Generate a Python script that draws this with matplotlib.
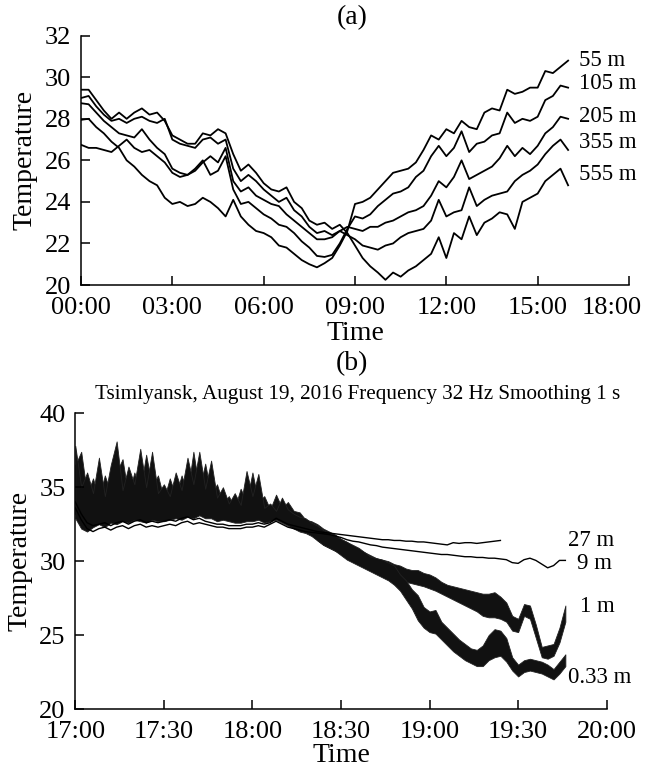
import numpy as np
import matplotlib
matplotlib.use("Agg")
import matplotlib.pyplot as plt
from matplotlib.transforms import ScaledTranslation

plt.rcParams['font.family'] = ['Liberation Serif', 'DejaVu Serif']

# ---------------- Panel (a) data: hours after 00:00, 15-min sampling ----------------
hours_a = np.arange(0, 16.001, 0.25)
t_55 = [27.95, 28.0, 27.6, 27.3, 26.9, 26.6, 26.0, 25.7, 25.3, 25.0, 24.8, 24.2, 23.9, 24.0, 23.8, 23.9,
        24.2, 24.0, 23.7, 23.3, 24.1, 23.3, 22.9, 22.6, 22.5, 22.3, 21.9, 21.8, 21.5, 21.2, 21.0, 20.85,
        21.05, 21.3, 21.9, 22.6, 23.9, 24.0, 24.2, 24.6, 25.0, 25.4, 25.5, 25.6, 25.9, 26.5, 27.2, 27.0,
        27.5, 27.3, 27.9, 27.6, 27.5, 28.3, 28.5, 28.4, 29.4, 29.2, 29.3, 29.5, 29.5, 30.3, 30.2, 30.5, 30.8]
t_105 = [26.75, 26.6, 26.6, 26.5, 26.4, 26.7, 27.0, 26.6, 26.4, 26.5, 26.2, 25.9, 25.4, 25.2, 25.3, 25.6,
         26.0, 25.3, 25.5, 26.2, 24.6, 23.9, 24.0, 23.7, 23.4, 23.2, 22.9, 22.8, 22.5, 22.1, 21.8, 21.4,
         21.35, 21.45, 22.0, 22.7, 23.3, 23.2, 23.4, 23.8, 24.1, 24.4, 24.5, 24.7, 25.2, 25.5, 26.2, 26.7,
         26.2, 26.6, 27.4, 26.4, 26.8, 26.9, 27.2, 27.3, 28.3, 27.8, 28.0, 27.9, 28.1, 28.9, 29.1, 29.6, 29.5]
t_205 = [28.75, 28.7, 28.3, 27.9, 27.6, 27.3, 27.2, 27.1, 27.5, 27.0, 26.6, 26.3, 25.6, 25.4, 25.3, 25.5,
         25.9, 26.2, 25.9, 26.6, 25.0, 24.5, 24.7, 24.3, 24.1, 23.9, 23.8, 23.4, 23.1, 22.8, 22.5, 22.2,
         22.2, 22.3, 22.6, 22.8, 22.7, 22.6, 22.8, 22.8, 23.0, 23.1, 23.3, 23.5, 23.6, 23.8, 24.3, 25.0,
         24.7, 25.2, 26.0, 25.1, 25.3, 25.5, 25.7, 26.1, 26.7, 26.2, 26.6, 26.3, 26.7, 27.3, 27.6, 28.1, 28.0]
t_355 = [29.0, 29.1, 28.6, 28.2, 27.9, 28.0, 27.8, 28.0, 28.1, 27.9, 27.8, 28.0, 27.0, 26.8, 26.7, 26.6,
         27.0, 27.1, 26.8, 27.0, 25.6, 25.0, 25.3, 25.0, 24.6, 24.3, 24.0, 24.2, 23.6, 23.3, 22.8, 22.5,
         22.6, 22.4, 22.6, 22.4, 22.2, 21.9, 21.8, 21.7, 21.9, 22.0, 22.3, 22.5, 22.6, 22.7, 23.1, 24.1,
         23.3, 23.5, 23.6, 24.7, 23.8, 24.1, 24.3, 24.4, 24.5, 25.0, 25.3, 25.5, 25.8, 26.3, 26.7, 27.0, 26.5]
t_555 = [29.4, 29.4, 28.9, 28.4, 28.0, 28.3, 28.0, 28.3, 28.5, 28.2, 28.3, 27.9, 27.2, 27.0, 26.8, 26.8,
         27.3, 27.2, 27.5, 27.3, 26.3, 25.5, 25.8, 25.4, 24.9, 24.6, 24.5, 24.7, 24.0, 23.7, 23.1, 22.9,
         23.0, 22.7, 22.9, 22.5, 21.9, 21.3, 20.9, 20.6, 20.25, 20.6, 20.4, 20.7, 20.9, 21.2, 21.5, 22.3,
         21.3, 22.5, 22.2, 23.3, 22.4, 23.0, 23.2, 23.5, 23.4, 22.7, 24.0, 24.2, 24.4, 25.0, 25.3, 25.6, 24.8]
series_a = {"55 m": t_55, "105 m": t_105, "205 m": t_205, "355 m": t_355, "555 m": t_555}
label_pos_a = {"55 m": 30.83, "105 m": 29.72, "205 m": 28.09, "355 m": 26.88, "555 m": 25.3}
ticks_a = [0, 3, 6, 9, 12, 15, 18]
ticklabels_a = ["00:00", "03:00", "06:00", "09:00", "12:00", "15:00", "18:00"]

# ---------------- Panel (b) data: minutes after 17:00, 2-min sampling ----------------
minutes_b = np.arange(0, 166.001, 2)
hi_033 = [37.8, 35.0, 36.0, 34.6, 37.0, 34.4, 36.5, 38.1, 34.8, 36.4, 35.2, 37.6, 35.0, 37.4, 34.6, 35.2,
          34.4, 36.0, 34.8, 37.0, 35.2, 37.4, 34.9, 36.8, 34.3, 35.0, 33.9, 34.6, 33.8, 36.1, 34.4, 35.9,
          33.6, 33.9, 33.4, 34.3, 33.5, 33.2, 33.0, 32.9, 32.6, 32.4, 32.1, 31.9, 31.7, 31.5, 31.3, 31.1,
          30.9, 30.6, 30.3, 30.2, 30.1, 29.9, 29.7, 29.1, 28.7, 28.1, 27.7, 26.9, 26.6, 26.7, 25.9, 25.5,
          25.1, 24.7, 24.4, 24.1, 24.0, 24.3, 25.0, 25.4, 25.3, 24.8, 23.5, 23.0, 23.3, 23.4, 23.3, 23.2,
          23.0, 22.7, 23.2, 23.7]
lo_033 = [32.9, 32.2, 32.0, 32.3, 32.5, 32.3, 32.6, 32.5, 32.7, 32.6, 32.8, 32.7, 32.6, 32.8, 32.7, 32.7,
          32.8, 32.9, 32.8, 33.0, 32.9, 33.1, 32.9, 32.9, 32.7, 32.8, 32.7, 32.6, 32.6, 32.7, 32.7, 32.8,
          32.6, 32.7, 32.8, 32.6, 32.4, 32.2, 32.0, 31.9, 31.7, 31.4, 31.1, 30.9, 30.7, 30.4, 30.1, 29.9,
          29.7, 29.5, 29.3, 29.1, 28.9, 28.7, 28.4, 28.0, 27.4, 26.8, 26.0, 25.5, 25.2, 25.1, 24.7, 24.3,
          23.9, 23.6, 23.3, 23.1, 22.9, 22.9, 23.3, 23.5, 23.6, 23.2, 22.6, 22.2, 22.5, 22.6, 22.5, 22.4,
          22.2, 22.0, 22.4, 22.9]
hi_1 = [36.5, 37.4, 34.5, 35.6, 34.2, 35.8, 34.6, 36.0, 36.9, 34.4, 36.0, 34.8, 37.2, 35.0, 35.8, 34.2,
        35.6, 34.4, 35.8, 34.6, 37.4, 34.8, 36.6, 34.5, 35.2, 33.9, 34.4, 33.6, 34.9, 34.0, 36.0, 34.0,
        34.4, 33.5, 34.5, 33.6, 34.0, 33.4, 33.3, 32.8, 32.7, 32.5, 32.2, 32.0, 31.8, 31.5, 31.3, 31.0,
        30.8, 30.6, 30.4, 30.2, 30.1, 30.0, 29.8, 29.7, 29.5, 29.4, 29.4, 29.2, 29.1, 28.9, 28.6, 28.4,
        28.3, 28.2, 28.1, 28.0, 27.9, 27.8, 27.8, 27.9, 27.6, 27.2, 26.3, 26.1, 27.1, 27.0, 25.7, 24.2,
        24.3, 24.4, 25.5, 27.0]
lo_1 = [33.2, 32.6, 32.3, 32.5, 32.7, 32.6, 32.8, 32.7, 32.9, 32.8, 33.0, 32.9, 32.8, 33.0, 32.9, 32.9,
        33.0, 33.1, 33.0, 33.2, 33.1, 33.2, 33.0, 33.0, 32.9, 32.9, 32.8, 32.7, 32.7, 32.8, 32.8, 32.9,
        32.7, 32.8, 32.9, 32.7, 32.5, 32.3, 32.1, 32.0, 31.8, 31.4, 31.1, 30.9, 30.7, 30.5, 30.2, 30.0,
        29.8, 29.6, 29.4, 29.3, 29.1, 28.9, 28.7, 28.8, 28.6, 28.5, 28.4, 28.3, 28.15, 28.0, 27.8, 27.6,
        27.4, 27.2, 27.0, 26.8, 26.6, 26.3, 26.2, 26.2, 26.1, 25.9, 25.3, 25.2, 26.3, 26.1, 24.8, 23.5,
        23.4, 23.6, 24.5, 25.9]
t_9 = [33.6, 32.8, 32.2, 32.0, 32.2, 32.3, 32.1, 32.3, 32.4, 32.2, 32.4, 32.5, 32.3, 32.4, 32.3, 32.4,
       32.5, 32.4, 32.6, 32.7, 32.5, 32.6, 32.5, 32.4, 32.3, 32.3, 32.2, 32.2, 32.2, 32.3, 32.3, 32.4,
       32.3, 32.5, 32.7, 32.5, 32.3, 32.2, 32.1, 32.0, 31.95, 31.9, 31.85, 31.8, 31.7, 31.6, 31.45, 31.35,
       31.3, 31.2, 31.1, 31.05, 30.95, 30.9, 30.85, 30.8, 30.75, 30.7, 30.65, 30.6, 30.55, 30.5, 30.45, 30.45,
       30.4, 30.35, 30.3, 30.3, 30.25, 30.25, 30.2, 30.2, 30.15, 30.1, 29.9, 29.85, 30.1, 30.2, 30.05, 29.8,
       29.55, 29.7, 30.05, 30.05]
minutes_27 = np.arange(0, 144.001, 2)
t_27 = [34.0, 33.2, 32.6, 32.4, 32.5, 32.6, 32.4, 32.6, 32.7, 32.5, 32.7, 32.8, 32.6, 32.7, 32.6, 32.7,
        32.8, 32.7, 32.9, 33.0, 32.8, 32.9, 32.7, 32.6, 32.5, 32.5, 32.4, 32.4, 32.4, 32.5, 32.5, 32.6,
        32.5, 32.6, 32.9, 32.7, 32.5, 32.4, 32.3, 32.2, 32.1, 32.0, 31.95, 31.9, 31.85, 31.8, 31.75, 31.7,
        31.65, 31.6, 31.55, 31.5, 31.45, 31.45, 31.4, 31.4, 31.35, 31.35, 31.3, 31.3, 31.25, 31.2, 31.15, 31.1,
        31.25, 31.2, 31.25, 31.25, 31.2, 31.25, 31.3, 31.35, 31.4]
label_pos_b = {"27 m": (167, 31.38), "9 m": (170, 29.87), "1 m": (171, 26.9), "0.33 m": (167, 22.1)}
ticks_b = [0, 30, 60, 90, 120, 150, 180]
ticklabels_b = ["17:00", "17:30", "18:00", "18:30", "19:00", "19:30", "20:00"]

# ---------------- Figure ----------------
W, H = 647, 774
fig = plt.figure(figsize=(W / 100, H / 100), dpi=100)
TICK_FS = 19
LABEL_FS = 20

def style_axes(ax):
    for s in ("top", "right"):
        ax.spines[s].set_visible(False)
    for s in ("left", "bottom"):
        ax.spines[s].set_linewidth(1.1)
    ax.tick_params(direction="in", length=6.5, width=1.1, labelsize=TICK_FS)
    ax.tick_params(axis="x", pad=9)
    ax.tick_params(axis="y", pad=7)

# Panel (a)
axa = fig.add_axes([81 / W, 1 - 285 / H, 548 / W, 249.3 / H])
for name, vals in series_a.items():
    axa.plot(hours_a, vals, color="black", lw=1.3)
    axa.text(16.35, label_pos_a[name], name, fontsize=16.5, ha="left", va="center")
axa.set_xlim(0, 18)
axa.set_ylim(20, 32)
axa.set_xticks(ticks_a)
axa.set_xticklabels(ticklabels_a)
axa.set_yticks([20, 22, 24, 26, 28, 30, 32])
style_axes(axa)
axa.set_xlabel("Time", fontsize=LABEL_FS, labelpad=1)
axa.set_ylabel("Temperature", fontsize=LABEL_FS, labelpad=5)
last = axa.get_xticklabels()[-1]
last.set_transform(last.get_transform() + ScaledTranslation(-17 / 100, 0, fig.dpi_scale_trans))
fig.text(352 / W, 1 - 18 / H, "(a)", fontsize=LABEL_FS, ha="center", va="center")

# Panel (b)
axb = fig.add_axes([75.3 / W, 65 / H, 531.4 / W, 295.7 / H])
axb.fill_between(minutes_b, lo_1, hi_1, color="#111111", lw=0.6, edgecolor="#222222")
axb.fill_between(minutes_b, lo_033, hi_033, color="#111111", lw=0.6, edgecolor="#222222")
axb.plot(minutes_b, t_9, color="black", lw=1.0)
axb.plot(minutes_27, t_27, color="black", lw=1.0)
for name, (xm, yv) in label_pos_b.items():
    axb.text(xm, yv, name, fontsize=16.5, ha="left", va="center")
axb.set_xlim(0, 180)
axb.set_ylim(20, 40)
axb.set_xticks(ticks_b)
axb.set_xticklabels(ticklabels_b)
axb.set_yticks([20, 25, 30, 35, 40])
style_axes(axb)
axb.set_xlabel("Time", fontsize=LABEL_FS, labelpad=0)
axb.set_ylabel("Temperature", fontsize=LABEL_FS, labelpad=5)
fig.text(358 / W, 1 - 395 / H, "Tsimlyansk, August 19, 2016 Frequency 32 Hz Smoothing 1 s",
         fontsize=15.2, ha="center", va="center")
fig.text(352 / W, 1 - 364 / H, "(b)", fontsize=LABEL_FS, ha="center", va="center")

fig.savefig("out.png", dpi=100)
